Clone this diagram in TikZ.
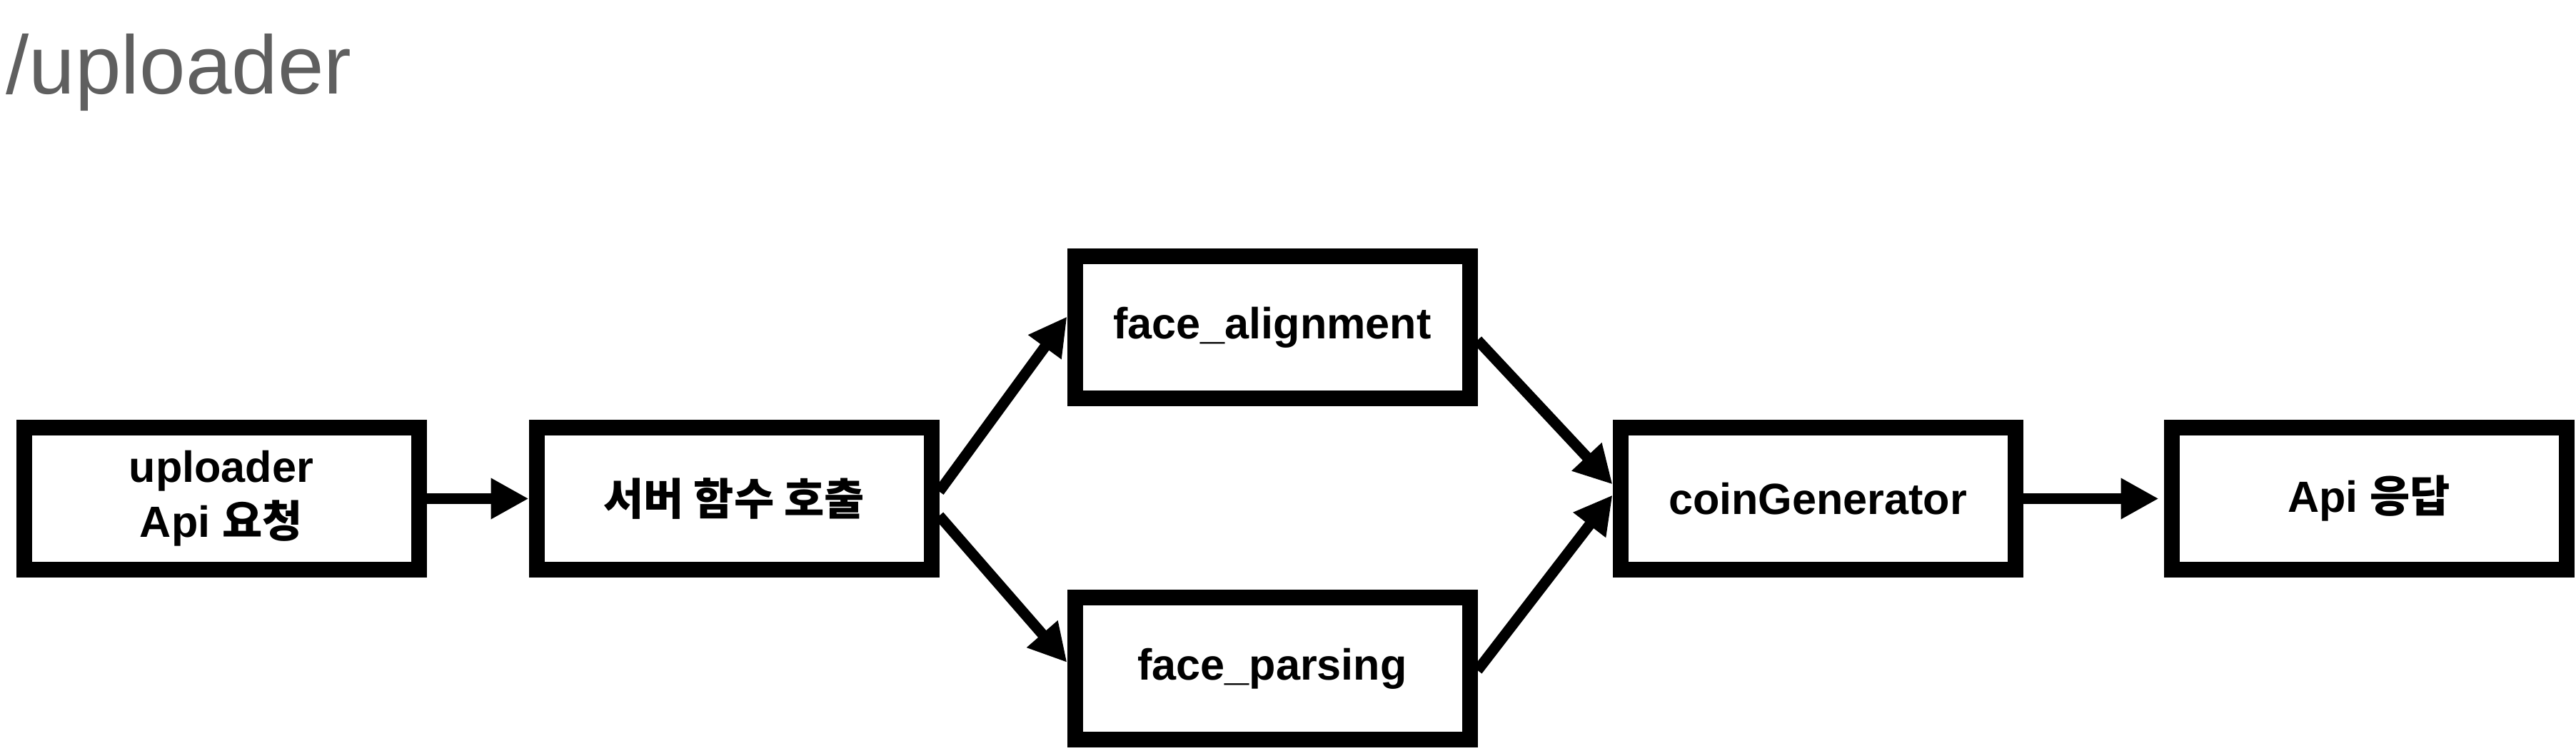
\documentclass[tikz,border=0pt]{standalone}
\usepackage{fontspec}
\setmainfont{Liberation Sans}
\newfontfamily\krfont{Noto Sans CJK KR}
\usetikzlibrary{arrows.meta}

\begin{document}
\begin{tikzpicture}[font=\bfseries\fontsize{17.4}{21.9}\selectfont]

	% Styles
	\tikzset{
		box/.style={
			rectangle, draw=black, line width=0.22cm,
			minimum width=5.53cm, minimum height=1.99cm,
			text centered, align=center,
			fill=white,
		},
		arrow/.style={
			line width=0.15cm, -{Triangle[length=0.53cm,width=0.54cm]},
		}
	}

	% Colors
	\definecolor{titlegray}{RGB}{95,95,95}

	\useasboundingbox (0,0) rectangle (36.08,-10.52);

	% Title
	\node[anchor=base west, inner sep=0pt, text=titlegray, font=\fontsize{33}{40}\selectfont] (title) at (0.08,-1.32) {/uploader};

	% Main row
	\node[box] (req) at (3.10,-6.985) {uploader\\Api {\krfont 요청}};
	\node[box] (srv) at (10.28,-6.985) {{\krfont 서버 함수 호출}};
	\node[box] (coin) at (25.46,-6.985) {coinGenerator};
	\node[box] (resp) at (33.18,-6.985) {Api {\krfont 응답}};

	% Parallel steps
	\node[box] (align) at (17.82,-4.585) {face\_alignment};
	\node[box] (parse) at (17.82,-9.37) {face\_parsing};

	% Arrows
	\draw[arrow] (req.east) -- (srv.west);
	\draw[arrow] ([yshift=0.1cm]srv.east) -- ([yshift=0.15cm]align.west);
	\draw[arrow] ([yshift=-0.24cm]srv.east) -- ([yshift=0.09cm]parse.west);
	\draw[arrow] ([yshift=-0.18cm]align.east) -- ([yshift=0.2cm]coin.west);
	\draw[arrow] ([yshift=-0.02cm]parse.east) -- ([yshift=0.05cm]coin.west);
	\draw[arrow] (coin.east) -- ([xshift=-0.07cm]resp.west);

\end{tikzpicture}
\end{document}
